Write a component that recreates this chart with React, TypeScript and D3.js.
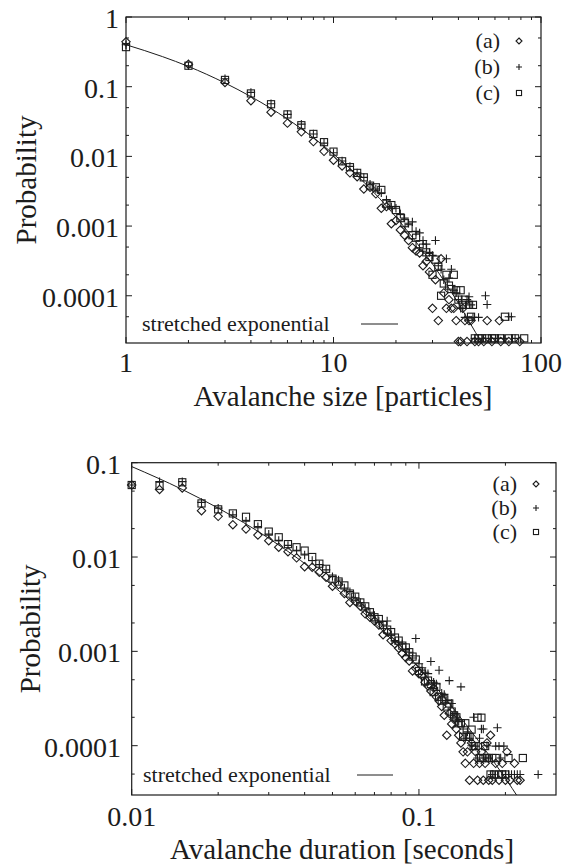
import React from "react";
import * as d3 from "d3";

// ---------- data: top panel (avalanche size) ----------
const sizeA: [number, number][] = [
  [1, 0.44], [2, 0.21], [3, 0.115], [4, 0.063], [5, 0.043], [6, 0.030], [7, 0.0225], [8, 0.0163], [9, 0.0118], [10, 0.0088],
  [11, 0.0073], [12, 0.0058], [13, 0.0051], [14, 0.0034], [15, 0.0036], [16, 0.0029], [17, 0.0018], [18, 0.0019], [19, 0.00108], [20, 0.0012],
  [21, 0.00088], [22, 0.00074], [23, 0.00062], [24, 0.00049], [25, 0.00044], [26, 0.00041], [27, 0.00027], [28, 0.00031], [29, 0.00022], [30, 0.000066],
  [31, 0.00017], [32, 0.000044], [33, 0.00034], [34, 0.00011], [35, 0.000066], [36, 0.000088], [37, 0.000066], [38, 0.000066], [39, 0.000044], [40, 0.000022],
  [41, 0.000022], [42, 0.000066], [43, 0.000044], [44, 0.000022], [45, 0.000044], [46, 0.000044], [48, 0.000022], [50, 0.000022], [53, 0.000022], [55, 0.000044],
  [58, 0.000022], [63, 0.000044], [64, 0.000022], [70, 0.000022], [79, 0.000022],
];
const sizeB: [number, number][] = [
  [1, 0.40], [2, 0.20], [3, 0.13], [4, 0.083], [5, 0.057], [6, 0.040], [7, 0.029], [8, 0.021], [9, 0.0155], [10, 0.0113],
  [11, 0.0086], [12, 0.0072], [13, 0.0058], [14, 0.0050], [15, 0.0040], [16, 0.0034], [17, 0.0030], [18, 0.0024], [19, 0.0019], [20, 0.0018],
  [21, 0.0015], [22, 0.0013], [23, 0.0011], [24, 0.00115], [25, 0.00084], [26, 0.0008], [27, 0.00062], [28, 0.00055], [29, 0.00042], [30, 0.00038],
  [31, 0.00062], [32, 0.00027], [33, 0.00024], [34, 0.00017], [35, 0.00034], [36, 0.00018], [37, 0.00024], [38, 0.00012], [39, 0.00011], [40, 0.000088],
  [41, 0.000066], [42, 0.000066], [43, 0.000049], [44, 0.000088], [45, 0.000097], [46, 0.000074], [47, 0.000049], [48, 0.0000245], [50, 0.000049], [52, 0.0000245],
  [54, 0.0001], [55, 0.000075], [57, 0.0000245], [62, 0.0000245], [66, 0.0000245], [70, 0.00005], [72, 0.00005], [75, 0.0000245],
];
const sizeC: [number, number][] = [
  [1, 0.37], [2, 0.20], [3, 0.125], [4, 0.08], [5, 0.056], [6, 0.040], [7, 0.028], [8, 0.021], [9, 0.016], [10, 0.0117],
  [11, 0.0085], [12, 0.0070], [13, 0.0058], [14, 0.0050], [15, 0.0038], [16, 0.0036], [17, 0.0033], [18, 0.0021], [19, 0.0020], [20, 0.0017],
  [21, 0.0013], [22, 0.0011], [23, 0.00093], [24, 0.00074], [25, 0.00068], [26, 0.00055], [27, 0.00049], [28, 0.00042], [29, 0.00036], [30, 0.0002],
  [31, 0.00033], [32, 0.00026], [33, 0.0001], [34, 0.00015], [35, 0.0002], [36, 0.00014], [37, 0.000125], [38, 0.0002], [39, 0.00012], [40, 0.000088],
  [41, 0.00012], [42, 0.000074], [43, 0.000088], [45, 0.000074], [46, 0.00005], [47, 0.000074], [48, 0.0000245], [50, 0.0000245], [52, 0.0000245], [55, 0.0000245],
  [58, 0.0000245], [60, 0.0000245], [64, 0.0000245], [67, 0.00005], [70, 0.0000245], [75, 0.0000245], [83, 0.0000245],
];
const sizeFit: [number, number][] = [
  [1, 0.40], [1.5, 0.27], [2, 0.195], [3, 0.113], [4, 0.072], [5, 0.0488], [7, 0.0249], [10, 0.0108], [14, 0.00427],
  [20, 0.00135], [25, 0.00059], [30, 0.000286], [35, 0.000145], [40, 0.000078], [45, 0.000043], [52, 0.0000204], [55, 0.000015],
];

// ---------- data: bottom panel (avalanche duration) ----------
const durA: [number, number][] = [
  [0.01, 0.058], [0.0125, 0.052], [0.015, 0.054], [0.0175, 0.031], [0.02, 0.027], [0.0225, 0.022], [0.025, 0.0198], [0.0275, 0.0171], [0.03, 0.0149], [0.0325, 0.0127],
  [0.035, 0.0114], [0.0375, 0.0098], [0.04, 0.0079], [0.0425, 0.0078], [0.045, 0.0069], [0.0475, 0.0061], [0.05, 0.0049], [0.0525, 0.0051], [0.055, 0.0041], [0.0575, 0.0033],
  [0.06, 0.0034], [0.0625, 0.0030], [0.065, 0.0025], [0.0675, 0.0023], [0.07, 0.0021], [0.0725, 0.0019], [0.075, 0.0015], [0.0775, 0.0016], [0.08, 0.0013], [0.0825, 0.0012],
  [0.085, 0.00108], [0.0875, 0.00095], [0.09, 0.00086], [0.0925, 0.00079], [0.095, 0.00062], [0.0975, 0.00066], [0.1, 0.00058], [0.1025, 0.00055], [0.105, 0.00047], [0.1075, 0.00043],
  [0.11, 0.00038], [0.1125, 0.00041], [0.115, 0.00033], [0.1175, 0.0003], [0.12, 0.00026], [0.1225, 0.00021], [0.125, 0.000129], [0.1275, 0.00022], [0.13, 0.00017], [0.1325, 0.00019],
  [0.135, 0.00015], [0.1375, 0.000129], [0.14, 0.000107], [0.1425, 0.000086], [0.145, 0.000065], [0.1475, 0.000086], [0.15, 0.000043], [0.1525, 0.000107], [0.155, 0.000065], [0.1575, 0.000086],
  [0.16, 0.000043], [0.1625, 0.000065], [0.165, 0.000086], [0.1675, 0.000043], [0.17, 0.000065], [0.1725, 0.000107], [0.175, 0.000043], [0.1775, 0.000129], [0.18, 0.000043], [0.185, 0.000065],
  [0.19, 0.000043], [0.195, 0.000065], [0.2, 0.000043], [0.2025, 0.000086], [0.2075, 0.000043], [0.215, 0.000065], [0.22, 0.000043], [0.225, 0.000043],
];
const durB: [number, number][] = [
  [0.01, 0.058], [0.0125, 0.063], [0.015, 0.063], [0.0175, 0.038], [0.02, 0.033], [0.0225, 0.028], [0.025, 0.024], [0.0275, 0.021], [0.03, 0.0175], [0.0325, 0.015],
  [0.035, 0.0133], [0.0375, 0.0118], [0.04, 0.0105], [0.0425, 0.0092], [0.045, 0.0083], [0.0475, 0.0073], [0.05, 0.0062], [0.0525, 0.0057], [0.055, 0.0047], [0.0575, 0.0043],
  [0.06, 0.0037], [0.0625, 0.0033], [0.065, 0.0029], [0.0675, 0.0026], [0.07, 0.0024], [0.0725, 0.0021], [0.075, 0.0019], [0.0775, 0.0021], [0.08, 0.0015], [0.0825, 0.0013],
  [0.085, 0.00125], [0.0875, 0.0012], [0.09, 0.00105], [0.0925, 0.00098], [0.095, 0.00085], [0.0975, 0.00137], [0.1, 0.00074], [0.1025, 0.00067], [0.105, 0.0006], [0.1075, 0.00058],
  [0.11, 0.00078], [0.1125, 0.00047], [0.115, 0.00045], [0.1175, 0.00063], [0.12, 0.00036], [0.1225, 0.00035], [0.125, 0.0003], [0.1275, 0.00049], [0.13, 0.00028], [0.1325, 0.00022],
  [0.135, 0.0002], [0.1375, 0.00018], [0.14, 0.00042], [0.1425, 0.00015], [0.145, 0.00012], [0.1475, 0.00014], [0.15, 0.00012], [0.1525, 0.0001], [0.155, 0.0002], [0.1575, 0.000099],
  [0.16, 0.000074], [0.1625, 0.00012], [0.165, 0.00015], [0.1675, 0.00015], [0.17, 0.000074], [0.1725, 0.0001], [0.175, 0.000074], [0.18, 0.0000495], [0.185, 0.000099], [0.1875, 0.000155],
  [0.19, 0.000099], [0.1925, 0.000074], [0.1975, 0.000099], [0.2, 0.0000495], [0.205, 0.0000495], [0.21, 0.0000495], [0.215, 0.0000495], [0.22, 0.0000495], [0.225, 0.0000495], [0.26, 0.0000495],
];
const durC: [number, number][] = [
  [0.01, 0.058], [0.0125, 0.057], [0.015, 0.062], [0.0175, 0.037], [0.02, 0.032], [0.0225, 0.029], [0.025, 0.0267], [0.0275, 0.0223], [0.03, 0.0186], [0.0325, 0.0162],
  [0.035, 0.0137], [0.0375, 0.0127], [0.04, 0.0117], [0.0425, 0.01], [0.045, 0.0085], [0.0475, 0.0075], [0.05, 0.0059], [0.0525, 0.0055], [0.055, 0.005], [0.0575, 0.0041],
  [0.06, 0.0038], [0.0625, 0.0033], [0.065, 0.003], [0.0675, 0.0026], [0.07, 0.0023], [0.0725, 0.0022], [0.075, 0.0019], [0.0775, 0.0017], [0.08, 0.0016], [0.0825, 0.0014],
  [0.085, 0.0013], [0.0875, 0.00115], [0.09, 0.0011], [0.0925, 0.00098], [0.095, 0.00088], [0.0975, 0.00082], [0.1, 0.00062], [0.1025, 0.00058], [0.105, 0.00048], [0.1075, 0.00049],
  [0.11, 0.00045], [0.1125, 0.00037], [0.115, 0.00042], [0.1175, 0.00033], [0.12, 0.0003], [0.1225, 0.00031], [0.125, 0.00026], [0.1275, 0.00028], [0.13, 0.00023], [0.1325, 0.00021],
  [0.135, 0.0002], [0.1375, 0.000173], [0.14, 0.000173], [0.1425, 0.000124], [0.145, 0.000173], [0.1475, 0.000124], [0.15, 0.000124], [0.1525, 0.000148], [0.155, 0.000099], [0.1575, 0.000099],
  [0.16, 0.000198], [0.1625, 0.000074], [0.165, 0.000198], [0.1675, 0.000074], [0.17, 0.000099], [0.1725, 0.000074], [0.175, 0.000074], [0.1775, 0.0000495], [0.18, 0.000074], [0.1825, 0.0000495],
  [0.185, 0.000074], [0.19, 0.0000495], [0.195, 0.0000495], [0.2, 0.0000495], [0.205, 0.000074], [0.23, 0.000074],
];
const durFit: [number, number][] = [
  [0.01, 0.091], [0.015, 0.052], [0.02, 0.033], [0.03, 0.0158], [0.05, 0.005], [0.07, 0.002], [0.1, 0.00067],
  [0.15, 0.00015], [0.2, 0.000045], [0.25, 0.000016],
];

const legendNames = ["(a)", "(b)", "(c)"];
const fitName = "stretched exponential";

const sizeXTicks = [1, 10, 100];
const sizeXTickLabels = ["1", "10", "100"];
const sizeYTicks = [1, 0.1, 0.01, 0.001, 0.0001];
const sizeYTickLabels = ["1", "0.1", "0.01", "0.001", "0.0001"];
const durXTicks = [0.01, 0.1];
const durXTickLabels = ["0.01", "0.1"];
const durYTicks = [0.1, 0.01, 0.001, 0.0001];
const durYTickLabels = ["0.1", "0.01", "0.001", "0.0001"];

const FONT = "'Liberation Serif', 'Times New Roman', serif";
const INK = "#1c1c1c";

type Sym = "diamond" | "plus" | "square";
const symbols: Sym[] = ["diamond", "plus", "square"];

function Marker({ x, y, sym, r, w = 1.1 }: { x: number; y: number; sym: Sym; r: number; w?: number }) {
  if (sym === "diamond")
    return <path d={`M${x},${y - r}L${x + r},${y}L${x},${y + r}L${x - r},${y}Z`} fill="none" stroke={INK} strokeWidth={w} />;
  if (sym === "plus")
    return <path d={`M${x - r},${y}H${x + r}M${x},${y - r}V${y + r}`} fill="none" stroke={INK} strokeWidth={w} />;
  const h = r * 0.85;
  return <rect x={x - h} y={y - h} width={2 * h} height={2 * h} fill="none" stroke={INK} strokeWidth={w} />;
}

function minorTicks(domain: [number, number]): number[] {
  const out: number[] = [];
  const lo = Math.floor(Math.log10(domain[0]));
  const hi = Math.ceil(Math.log10(domain[1]));
  for (let e = lo; e <= hi; e++) for (let m = 2; m <= 9; m++) {
    const v = m * Math.pow(10, e);
    if (v > domain[0] * 1.0001 && v < domain[1] * 0.9999) out.push(v);
  }
  return out;
}
function minorY(domain: [number, number]): number[] {
  const out: number[] = [];
  const lo = Math.floor(Math.log10(domain[0]));
  const hi = Math.ceil(Math.log10(domain[1]));
  for (let e = lo; e <= hi; e++) for (const m of [2, 5]) {
    const v = m * Math.pow(10, e);
    if (v > domain[0] * 1.0001 && v < domain[1] * 0.9999) out.push(v);
  }
  return out;
}

interface PanelProps {
  left: number; right: number; top: number; bottom: number;
  xDomain: [number, number]; yDomain: [number, number];
  series: [number, number][][];
  fit: [number, number][];
  xTicks: number[]; xTickLabels: string[];
  yTicks: number[]; yTickLabels: string[];
  xTitle: string;
  xLabelBase: number; xTitleBase: number; xTitleX: number;
  yLabelX: number; yTitleX: number;
  legX: number; legY: number; legDy: number;
  fitLegX: number; fitLegY: number; fitLineX1: number; fitLineX2: number;
  clipId: string;
}

function Panel(p: PanelProps) {
  const x = d3.scaleLog().domain(p.xDomain).range([p.left, p.right]);
  const y = d3.scaleLog().domain(p.yDomain).range([p.bottom, p.top]);
  const line = d3.line<[number, number]>().x(d => x(d[0])).y(d => y(d[1])).curve(d3.curveMonotoneX);
  const major = 6, minor = 3;
  const xMin = minorTicks(p.xDomain);
  const yMin = minorY(p.yDomain);
  const yMid = (p.top + p.bottom) / 2;
  return (
    <g>
      <defs>
        <clipPath id={p.clipId}><rect x={p.left} y={p.top} width={p.right - p.left} height={p.bottom - p.top} /></clipPath>
      </defs>
      <g stroke={INK} strokeWidth={1}>
        {p.xTicks.map(v => (
          <g key={"xt" + v}>
            <line x1={x(v)} x2={x(v)} y1={p.bottom} y2={p.bottom - major} />
            <line x1={x(v)} x2={x(v)} y1={p.top} y2={p.top + major} />
          </g>
        ))}
        {xMin.map(v => (
          <g key={"xm" + v}>
            <line x1={x(v)} x2={x(v)} y1={p.bottom} y2={p.bottom - minor} />
            <line x1={x(v)} x2={x(v)} y1={p.top} y2={p.top + minor} />
          </g>
        ))}
        {p.yTicks.map(v => (
          <g key={"yt" + v}>
            <line x1={p.left} x2={p.left + major} y1={y(v)} y2={y(v)} />
            <line x1={p.right} x2={p.right - major} y1={y(v)} y2={y(v)} />
          </g>
        ))}
        {yMin.map(v => (
          <g key={"ym" + v}>
            <line x1={p.left} x2={p.left + minor} y1={y(v)} y2={y(v)} />
            <line x1={p.right} x2={p.right - minor} y1={y(v)} y2={y(v)} />
          </g>
        ))}
      </g>
      <path d={line(p.fit) || ""} fill="none" stroke={INK} strokeWidth={1} clipPath={`url(#${p.clipId})`} />
      {p.series.map((s, i) => (
        <g key={"s" + i}>
          {s.map((d, j) => <Marker key={j} x={x(d[0])} y={y(d[1])} sym={symbols[i]} r={4.2} />)}
        </g>
      ))}
      <rect x={p.left} y={p.top} width={p.right - p.left} height={p.bottom - p.top} fill="none" stroke={INK} strokeWidth={1.2} />
      <g fontFamily={FONT} fontSize={28} fill={INK}>
        {p.xTicks.map((v, i) => (
          <text key={"xl" + v} x={x(v)} y={p.xLabelBase} textAnchor="middle">{p.xTickLabels[i]}</text>
        ))}
        {p.yTicks.map((v, i) => (
          <text key={"yl" + v} x={p.yLabelX} y={y(v) + 11} textAnchor="end">{p.yTickLabels[i]}</text>
        ))}
      </g>
      <g fontFamily={FONT} fontSize={29} fill={INK}>
        <text x={p.xTitleX} y={p.xTitleBase} textAnchor="middle">{p.xTitle}</text>
        <text transform={`translate(${p.yTitleX},${yMid}) rotate(-90)`} textAnchor="middle">Probability</text>
      </g>
      <g fontFamily={FONT} fontSize={22} fill={INK}>
        {legendNames.map((n, i) => (
          <g key={n}>
            <text x={p.legX} y={p.legY + i * p.legDy + 7} textAnchor="end">{n}</text>
            <Marker x={p.legX + 19} y={p.legY + i * p.legDy} sym={symbols[i]} r={3} />
          </g>
        ))}
        <text x={p.fitLegX} y={p.fitLegY}>{fitName}</text>
        <line x1={p.fitLineX1} x2={p.fitLineX2} y1={p.fitLegY - 7} y2={p.fitLegY - 7} stroke={INK} strokeWidth={1} />
      </g>
    </g>
  );
}

export default function App() {
  return (
    <svg width={569} height={865} style={{ position: "absolute", left: 0, top: 0, background: "#fff" }}>
      <rect width={569} height={865} fill="#fff" />
      <Panel
        left={126} right={541} top={17} bottom={343}
        xDomain={[1, 100]} yDomain={[2.1e-5, 1]}
        series={[sizeA, sizeB, sizeC]} fit={sizeFit}
        xTicks={sizeXTicks} xTickLabels={sizeXTickLabels}
        yTicks={sizeYTicks} yTickLabels={sizeYTickLabels}
        xTitle="Avalanche size [particles]"
        xLabelBase={372} xTitleBase={406} xTitleX={343}
        yLabelX={119} yTitleX={36}
        legX={500} legY={41} legDy={26}
        fitLegX={142} fitLegY={331} fitLineX1={361} fitLineX2={398}
        clipId="clipTop"
      />
      <Panel
        left={131.7} right={556} top={462.7} bottom={795}
        xDomain={[0.01, 0.3]} yDomain={[3e-5, 0.1]}
        series={[durA, durB, durC]} fit={durFit}
        xTicks={durXTicks} xTickLabels={durXTickLabels}
        yTicks={durYTicks} yTickLabels={durYTickLabels}
        xTitle="Avalanche duration [seconds]"
        xLabelBase={826} xTitleBase={859} xTitleX={342}
        yLabelX={121} yTitleX={40}
        legX={517} legY={484} legDy={24}
        fitLegX={143} fitLegY={782} fitLineX1={357} fitLineX2={393}
        clipId="clipBot"
      />
    </svg>
  );
}
